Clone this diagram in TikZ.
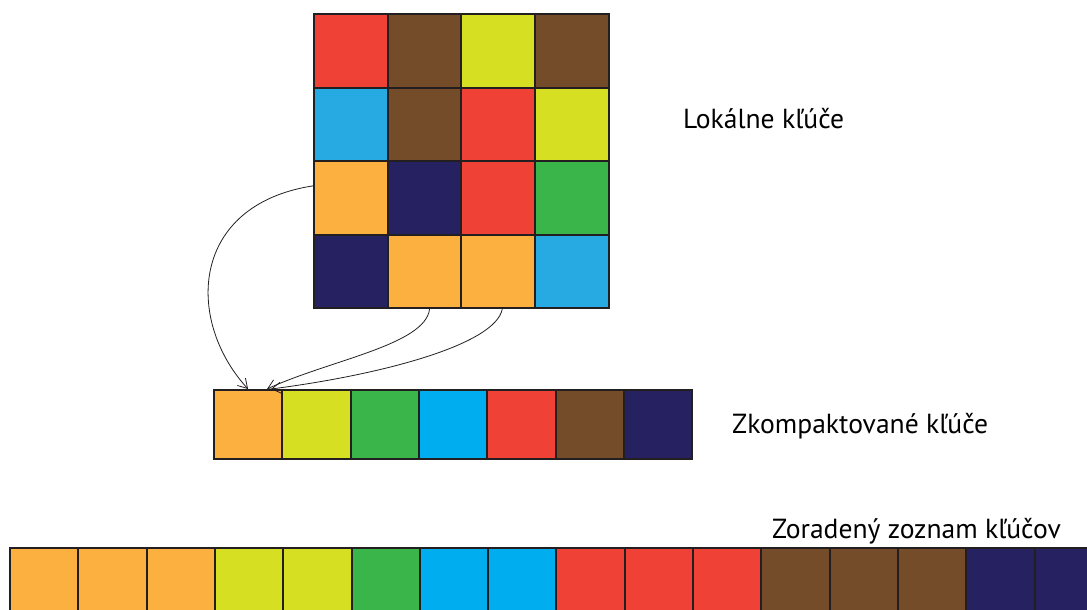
\documentclass[tikz,border=0pt]{standalone}
\usepackage{fontspec}
\setmainfont{PT Sans}
\usetikzlibrary{arrows.meta}
\definecolor{kred}{HTML}{EF4136}
\definecolor{kbrown}{HTML}{754C29}
\definecolor{kyellow}{HTML}{D7DF23}
\definecolor{kblue}{HTML}{27AAE1}
\definecolor{kcyan}{HTML}{00AEEF}
\definecolor{kgreen}{HTML}{39B54A}
\definecolor{knavy}{HTML}{262262}
\definecolor{korange}{HTML}{FBB040}
\definecolor{kline}{HTML}{231F20}
\tikzset{
  bigcell/.style={draw=kline, line width=2pt, minimum width=73.7pt, minimum height=73.7pt, inner sep=0pt, anchor=north west},
  smallcell/.style={draw=kline, line width=2pt, minimum width=68.3pt, minimum height=68.7pt, inner sep=0pt, anchor=north west},
  caption/.style={anchor=base west, inner sep=0pt, font=\fontsize{27.6}{32}\selectfont, text=black},
  link/.style={draw=kline, line width=0.8pt, -{Straight Barb[length=9pt,width=11pt]}},
}
\begin{document}
\begin{tikzpicture}[x=1pt,y=-1pt]
\useasboundingbox (0,0) rectangle (1087,610);
\clip (0,0) rectangle (1087,610);

% local keys, 4x4 grid
\foreach \r/\row in {1/{kred,kbrown,kyellow,kbrown},
                     2/{kblue,kbrown,kred,kyellow},
                     3/{korange,knavy,kred,kgreen},
                     4/{knavy,korange,korange,kblue}} {
  \foreach \c [count=\i] in \row {
    \node[bigcell, fill=\c] (g\r\i) at ({313+(\i-1)*73.7},{13+(\r-1)*73.5}) {};
  }
}

% compacted keys
\foreach \c [count=\i] in {korange,kyellow,kgreen,kcyan,kred,kbrown,knavy} {
  \node[smallcell, fill=\c] (c\i) at ({213+(\i-1)*68.3},389) {};
}

% sorted list of keys
\foreach \c [count=\i] in {korange,korange,korange,kyellow,kyellow,kgreen,kcyan,kcyan,kred,kred,kred,kbrown,kbrown,kbrown,knavy,knavy} {
  \node[smallcell, fill=\c] (s\i) at ({9+(\i-1)*68.3},547) {};
}

% mapping of the orange keys into the compacted array
\coordinate (a1) at ([xshift=35pt]c1.north west);
\coordinate (a2) at ([xshift=54pt]c1.north west);
\coordinate (a3) at ([xshift=58pt]c1.north west);
\draw[link] ([yshift=12pt]g31.west) .. controls (190,205) and (185,320) .. (a1);
\draw[link] ([xshift=5pt]g42.south) .. controls (425,345) and (330,360) .. (a2);
\draw[link] ([xshift=4pt]g43.south) .. controls (495,345) and (380,375) .. (a3);

% captions
\node[caption] (t1) at (683,128) {Lokálne kľúče};
\node[caption] (t2) at (732,433) {Zkompaktované kľúče};
\node[caption] (t3) at (772,538) {Zoradený zoznam kľúčov};
\end{tikzpicture}
\end{document}
